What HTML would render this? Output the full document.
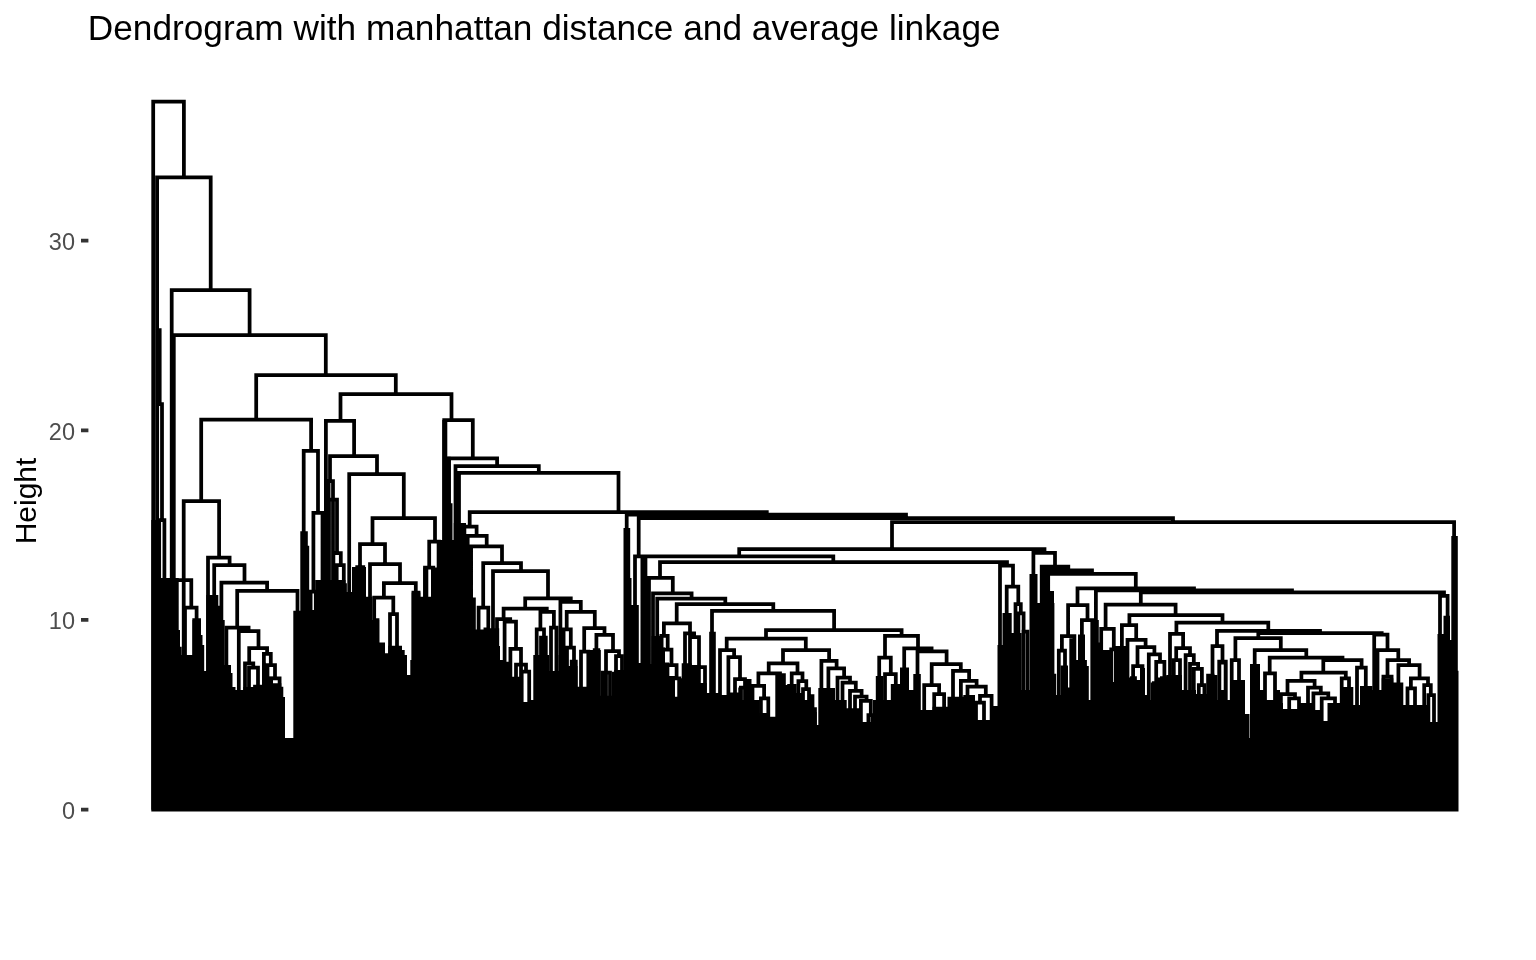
<!DOCTYPE html>
<html><head><meta charset="utf-8"><title>Dendrogram</title>
<style>
html,body{margin:0;padding:0;background:#fff;}
body{width:1536px;height:960px;overflow:hidden;position:relative;font-family:"Liberation Sans",sans-serif;}
svg{position:absolute;left:0;top:0;will-change:transform;}
text{-webkit-font-smoothing:antialiased;}
.t{font-family:"Liberation Sans",sans-serif;}
</style></head><body>
<svg width="1536" height="960" viewBox="0 0 1536 960">
<rect width="1536" height="960" fill="#fff"/>
<text class="t" x="87.8" y="39.8" font-size="35.2" fill="#000" textLength="912.8" lengthAdjust="spacingAndGlyphs">Dendrogram with manhattan distance and average linkage</text>
<text class="t" transform="translate(36,501) rotate(-90)" text-anchor="middle" font-size="30" fill="#000">Height</text>
<g class="t" font-size="23.5" fill="#4D4D4D" text-anchor="end">
<text x="75" y="250.2">30</text><text x="75" y="439.8">20</text><text x="75" y="629.4">10</text><text x="75" y="819">0</text>
</g>
<path d="M81 240.7H88.4M81 430.3H88.4M81 619.9H88.4M81 809.6H88.4" stroke="#333" stroke-width="3.75" fill="none"/>
<path d="M151.3 520H160.8V811.4H151.3ZM151.3 578H178.7V811.4H151.3ZM178.7 630H180V811.4H178.7ZM180 646.7H181.7V811.4H180ZM181.7 655H200V811.4H181.7ZM192.5 620H200.8V811.4H192.5ZM200.8 635H202.5V811.4H200.8ZM202.5 645H204.2V811.4H202.5ZM204.2 671H206.3V811.4H204.2ZM206.3 595H218.3V811.4H206.3ZM218.3 605.8H221.7V811.4H218.3ZM221.7 620H224.7V811.4H221.7ZM224.7 665H231V811.4H224.7ZM231 673H232.5V811.4H231ZM232.5 687H235.5V811.4H232.5ZM235.5 690H243.5V811.4H235.5ZM243.3 687H262V811.4H243.3ZM259.7 685H263V811.4H259.7ZM262 662.5H265.5V811.4H262ZM265.5 676.7H273V811.4H265.5ZM273 683.3H281.3V811.4H273ZM281.3 686.7H283.3V811.4H281.3ZM283.3 697H285V811.4H283.3ZM300.3 531.3H307.8V811.4H300.3ZM300.3 545.8H309.2V811.4H300.3ZM324.2 479H328.3V811.4H324.2ZM442.3 420H447.3V811.4H442.3ZM442.3 456.7H450.7V811.4H442.3ZM442.5 503.3H452.5V811.4H442.5ZM436.7 540H465V811.4H436.7ZM453.8 523H466V811.4H453.8ZM293.3 610.8H300.3V811.4H293.3ZM300.3 591.7H312.5V811.4H300.3ZM312.5 610H315.2V811.4H312.5ZM315.2 580H345.5V811.4H315.2ZM345.5 592H352V811.4H345.5ZM352 567H366V811.4H352ZM363.3 596.7H372.5V811.4H363.3ZM372.5 620H379.2V811.4H372.5ZM379.2 642.5H385V811.4H379.2ZM385 653.3H388.3V811.4H385ZM388.3 645.8H402V811.4H388.3ZM402 650H404.7V811.4H402ZM404.7 655H407V811.4H404.7ZM407 675H410.3V811.4H407ZM410.3 660H411.7V811.4H410.3ZM411.7 592.5H420.3V811.4H411.7ZM420.3 596.7H423.3V811.4H420.3ZM423.3 567.5H428.3V811.4H423.3ZM428.3 596.7H431V811.4H428.3ZM431 567.5H436.7V811.4H431ZM465 597.5H475.8V811.4H465ZM475.8 629.4H492.5V811.4H475.8ZM492.5 640H498V811.4H492.5ZM498 646H500V811.4H498ZM500 660H505V811.4H500ZM623.5 528H630.2V811.4H623.5ZM623.5 578H631.5V811.4H623.5ZM623.5 605H638.8V811.4H623.5ZM640.8 556.4H647.2V811.4H640.8ZM651.5 636H659V811.4H651.5ZM640.8 664H660.8V811.4H640.8ZM709.2 631.7H715.8V811.4H709.2ZM490 628.3H499.2V811.4H490ZM499.2 661.7H509.2V811.4H499.2ZM509.2 676.7H521V811.4H509.2ZM521 702H528V811.4H521ZM528 700H533.3V811.4H528ZM533.3 655H547.5V811.4H533.3ZM545.8 655H549.2V811.4H545.8ZM549.2 671H558.6V811.4H549.2ZM558.6 655H565.8V811.4H558.6ZM565.8 666H577.5V811.4H565.8ZM577.5 686.7H590V811.4H577.5ZM590 650H600.8V811.4H590ZM600.8 695.8H611.7V811.4H600.8ZM611.7 671.7H614.2V811.4H611.7ZM614.2 670H623.5V811.4H614.2ZM659 635.8H663.3V811.4H659ZM663.3 647.6H665V811.4H663.3ZM665 662.6H669.2V811.4H665ZM669.2 675.9H675V811.4H669.2ZM675 696.7H677.5V811.4H675ZM677.5 678.3H681.7V811.4H677.5ZM681.7 663.3H691.7V811.4H681.7ZM691.7 665H700.8V811.4H691.7ZM700.8 683H706.7V811.4H700.8ZM706.7 693H720V811.4H706.7ZM718.3 695H730V811.4H718.3ZM730 692.5H738.3V811.4H730ZM738.3 687.5H742.5V811.4H738.3ZM742.5 700H747V811.4H742.5ZM775.3 673.3H785.8V811.4H775.3ZM775.3 685H790V811.4H775.3ZM750.8 716.7H775.3V811.4H750.8ZM750.8 700H759V811.4H750.8ZM759.2 713H770V811.4H759.2ZM770 717H775.3V811.4H770ZM787.2 684H796.7V811.4H787.2ZM796.7 693H803V811.4H796.7ZM803 700H809V811.4H803ZM807.5 712H816.7V811.4H807.5ZM818.3 688H835V811.4H818.3ZM835 700H846.7V811.4H835ZM846.7 708.3H860V811.4H846.7ZM860 722H875V811.4H860ZM875.8 676H883.3V811.4H875.8ZM883.3 700H897.5V811.4H883.3ZM890.8 684H900V811.4H890.8ZM900 667.5H909V811.4H900ZM909 690H913.3V811.4H909ZM913.3 674H920.8V811.4H913.3ZM920.8 710H932.5V811.4H920.8ZM932.5 706.7H947.5V811.4H932.5ZM947.5 696.7H963.3V811.4H947.5ZM963.3 695H975V811.4H963.3ZM975 720H990V811.4H975ZM997.5 645H1013.3V811.4H997.5ZM1002.5 613H1011.7V811.4H1002.5ZM1011.7 633H1021.7V811.4H1011.7ZM1021.7 690H1029.5V811.4H1021.7ZM1029.5 574H1037.5V811.4H1029.5ZM1040 567H1050V811.4H1040ZM1050 591H1054V811.4H1050ZM1029.5 603H1054.4V811.4H1029.5ZM1054.4 673.8H1056.2V811.4H1054.4ZM1056.2 695H1060.6V811.4H1056.2ZM1060.6 665.6H1068V811.4H1060.6ZM1066.9 687.5H1075V811.4H1066.9ZM1075 660H1078V811.4H1075ZM1078 634.4H1085V811.4H1078ZM1085 660H1086.9V811.4H1085ZM1086.9 666H1088.8V811.4H1086.9ZM1088.8 700H1091V811.4H1088.8ZM1090.6 620H1098.8V811.4H1090.6ZM1098.8 642.5H1100V811.4H1098.8ZM1099.4 650H1110V811.4H1099.4ZM1110 682H1115V811.4H1110ZM1115 646H1126.2V811.4H1115ZM1126.2 677.5H1131.2V811.4H1126.2ZM1131.2 680H1140V811.4H1131.2ZM1140 668H1145V811.4H1140ZM1145 695H1147V811.4H1145ZM1150.6 682.5H1154.4V811.4H1150.6ZM1152 683H1159V811.4H1152ZM1158 677.5H1166.2V811.4H1158ZM1166.2 675H1182V811.4H1166.2ZM1182 690H1184V811.4H1182ZM1187 690H1196V811.4H1187ZM1195.6 694H1206.2V811.4H1195.6ZM1206.2 673.8H1214.4V811.4H1206.2ZM1214.4 675H1217.5V811.4H1214.4ZM1221 690H1224V811.4H1221ZM1443.5 615.8H1450V811.4H1443.5ZM1437.5 634H1450V811.4H1437.5ZM1451.3 536H1457.8V811.4H1451.3ZM1451.3 670.8H1458.5V811.4H1451.3ZM1204 700H1232V811.4H1204ZM1210 675H1217V811.4H1210ZM1230 680H1245V811.4H1230ZM1245 714H1249.5V811.4H1245ZM1250 664H1260V811.4H1250ZM1260 690H1266V811.4H1260ZM1266 700H1274V811.4H1266ZM1274 690H1280V811.4H1274ZM1278 703H1283V811.4H1278ZM1283 709H1299V811.4H1283ZM1299 703H1313V811.4H1299ZM1313 710H1322V811.4H1313ZM1322 721H1327.5V811.4H1322ZM1327.5 703H1340V811.4H1327.5ZM1340 687H1353.3V811.4H1340ZM1353.3 705H1360V811.4H1353.3ZM1360 686H1372.5V811.4H1360ZM1372.5 690H1381.7V811.4H1372.5ZM1381.7 678.3H1393.3V811.4H1381.7ZM1393.3 682.5H1403.3V811.4H1393.3ZM1403.3 705H1428V811.4H1403.3ZM1428 722H1437.5V811.4H1428ZM151.5 738H1458.5V811.4H151.5ZM638 663H641.5V811.4H638ZM816 725H819V811.4H816ZM746 679H751.5V811.4H746ZM990 706H998V811.4H990ZM873 700H877V811.4H873ZM1449 640H1452V811.4H1449ZM1147 700H1151V811.4H1147Z" fill="#000"/>
<path d="M153.2 809.7V101.7H183.9V177.3M157.1 809.7V177.3H210.7V290M171.7 809.7V290H249.6V335M173.8 809.7V335H325.8V375M256.2 419.7V375H395.8V394.2M201.2 501.2V419.7H311.1V450.8M340.5 420.8V394.2H451.5V420M325.9 809.7V420.8H354.1V456.2M444.2 809.7V420H472.8V458.3M183.7 809.7V501.2H219.1V557.5M303.7 809.7V450.8H318V513.3M330 481.2V456.2H377V474.2M349.2 809.7V474.2H403.8V518M157.2 809.7V404.2H162V520M159.2 809.7V520H164.4V809.7M176.1 809.7V580H191.3V607.5M185 809.7V607.5H196.6V620M194.2 809.7V620H199.1V809.7M208 809.7V557.5H229.6V565M214.2 809.7V565H244.5V582.5M221.4 809.7V582.5H267.1V590.8M237.2 627.5V590.8H297.5V809.7M226.4 809.7V627.5H248.6V631M238.8 809.7V631H258.5V648M249.2 663.3V648H267.1V653.8M245 809.7V663.3H253.3V667.5M249 809.7V667.5H258V809.7M263.9 809.7V653.8H270.8V665M267.5 809.7V665H275V678.3M270.9 809.7V678.3H279.6V809.7M255 809.7V686.7H260V809.7M313.4 591.7V512.8H322.5V809.7M310 809.7V591.7H315.8V809.7M328.6 809.7V481.2H333V809.7M329 809.7V499.5H337V553M333.4 809.7V553H340.8V565M336.7 809.7V565H343.8V809.7M341 809.7V585H345V809.7M372.5 544.2V518H435V541.7M360 567V544.2H385V564.2M357.2 809.7V567H363.3V809.7M370 809.7V564.2H400V583M383.9 597.5V583H415.8V592.5M374.2 809.7V597.5H393.3V614.2M390 809.7V614.2H397V809.7M374.2 809.7V620H377.5V809.7M413.4 809.7V592.5H418.6V809.7M429.2 567.5V541.7H439V809.7M425 809.7V567.5H433.3V809.7M449 809.7V458.3H497.1V466.2M455.5 809.7V466.2H538.8V472.8M459 809.7V472.8H618.5V512.2M469.7 526.7V512H766.8V514.7M464.4 809.7V526.7H476.6V535.8M467.7 809.7V535.8H486.7V546.3M471.1 809.7V546.3H502V563.1M483.2 607.5V563.1H521V571.2M478.6 809.7V607.5H488.3V629.4M485.4 809.7V629.4H488.3V809.7M493 809.7V571.2H548V598.4M525.2 608.5V598.4H570.8V601.9M503.6 619V608.5H546.8V611.9M497 809.7V619H510.2V621.5M504.6 809.7V621.5H516V648.8M510.4 809.7V648.8H521V809.7M540.4 629.4V611.9H553.9V627.5M536.7 809.7V629.4H544V809.7M551 809.7V627.5H556.4V809.7M560.4 809.7V601.9H580.8V611.9M566.7 629.4V611.9H594.8V628.1M563.6 809.7V629.4H570.8V647.5M567 809.7V647.5H574V809.7M584.2 651.5V628.1H604.5V634.8M581 809.7V651.5H588.3V809.7M596.4 650V634.8H613V651M594.7 809.7V650H598.3V809.7M606 809.7V651H619V656M616 809.7V656H622V809.7M626.7 809.7V514.7H906V518.1M638.7 556.4V518.1H1173V522.2M892 549.2V522.2H1454.1V809.7M635 809.7V556.4H642.5V809.7M739.2 556.4V549.2H1044.5V552.5M645.3 809.7V556.4H833.3V562.2M660 577.8V562.2H1007V565M649 809.7V577.8H672.8V593.3M653 809.7V593.3H691.6V598.7M657.2 809.7V598.7H725.3V604.2M676.7 623.3V604.2H773.3V610.8M712 809.7V610.8H834.1V630M766 638.5V630H901.6V635.8M663.9 635.8V623.3H690V633.3M516 809.7V664.5H526V671.5M521.7 809.7V671.5H529.2V809.7M541 809.7V637.5H545.8V809.7M571.7 809.7V661.7H575.8V809.7M602.5 809.7V672.5H610V809.7M661.4 809.7V635.8H667.7V649.5M663.1 809.7V649.5H671.5V665M667.3 809.7V665H676.6V678.3M673.1 809.7V678.3H679.4V809.7M685 809.7V633.3H694.1V637M690 809.7V637H699V667M693.4 809.7V667H705V809.7M726.7 650V638.5H805.8V650M720 809.7V650H734.1V657M728.4 809.7V657H740V679M735 809.7V679H745V809.7M783 663.3V650H829.1V660.8M768.7 673.3V663.3H797.5V673.3M758.4 685.8V673.3H780V809.7M752.5 809.7V685.8H764.1V698.3M760.9 809.7V698.3H768.3V809.7M791.7 809.7V673.3H802.5V681M798.4 809.7V681H806.3V689M803 809.7V689H809V809.7M809.2 809.7V696H812.5V809.7M812.5 809.7V709H815V809.7M821.4 809.7V660.8H836.6V668.3M828.4 809.7V668.3H844.1V677.5M837.5 809.7V677.5H850V682.5M842.5 809.7V682.5H855.8V690.8M850 809.7V690.8H861.6V696.7M855 809.7V696.7H866.6V700.8M860.9 809.7V700.8H870.8V715M868.4 809.7V715H872.5V809.7M885 657.5V635.8H918V648.3M879.2 809.7V657.5H890.8V674.2M885 809.7V674.2H895.8V809.7M904.2 809.7V648.3H931.6V651.3M917.5 809.7V651.3H946.6V664.2M931.7 685V664.2H960.8V670.8M924.2 809.7V685H939.1V694.2M934.2 809.7V694.2H944.1V809.7M953 809.7V670.8H969.1V680.8M960.9 809.7V680.8H976.6V686.7M967.5 809.7V686.7H985.8V695.8M980 702.5V695.8H991.6V809.7M976 809.7V702.5H984V809.7M1000 809.7V565.5H1013V586.7M1006.7 809.7V586.7H1018.3V604.2M1015.5 809.7V604.2H1020.8V613.3M1018.4 809.7V613.3H1023.6V631.7M1023.4 809.7V631.7H1027.5V809.7M1033.4 809.7V552.8H1055V566.5M1041.7 809.7V566.5H1068.3V570.3M1045 809.7V570.3H1092V573.8M1048.2 809.7V573.8H1135.8V588.3M1077.5 605V588.3H1194V590.4M1095.9 809.7V590.4H1292V592.4M1140.8 604.6V592.4H1444V595.8M1068.1 636.2V605H1087.5V620M1061.9 650.6V636.2H1074.4V640M1058.8 809.7V650.6H1065V809.7M1071.2 809.7V640H1074.4V809.7M1081.9 809.7V620H1092.5V809.7M1105.6 628.8V604.6H1175.6V615M1101.2 809.7V628.8H1113.8V649.4M1111.2 809.7V649.4H1115.7V809.7M1129.4 625V615H1222.5V622.5M1121.9 809.7V625H1136.2V639.8M1127.5 809.7V639.8H1145.6V647.2M1137.5 666.2V647.2H1154.4V654.4M1148.8 809.7V654.4H1160V661.9M1156.2 683V661.9H1164.4V678M1153.8 809.7V683H1158.8V809.7M1161.9 809.7V678H1167V809.7M1133.1 678V666.2H1142.5V809.7M1131.9 809.7V678H1135V809.7M1170 809.7V633.8H1183.1V648M1176.2 660V648H1190V655M1173.8 809.7V660H1180V809.7M1185.6 809.7V655H1193.8V663.8M1190 809.7V663.8H1198.1V668.8M1193.8 809.7V668.8H1201.9V685M1198.8 809.7V685H1204.4V809.7M1212.5 809.7V646.2H1222.5V662.5M1219.4 809.7V662.5H1225.6V809.7M1440 809.7V595.8H1447.6V809.7M1176.4 634.2V622.5H1268.3V630.8M1217 646.2V630.8H1320V633M1258.3 638V633H1381.7V634.5M1374.2 809.7V634.5H1387.5V650M1377.5 809.7V650H1398.3V660M1387.5 676.7V660H1409.1V665M1383.4 809.7V676.7H1391.6V809.7M1398.4 809.7V665H1419.6V678.3M1410.9 688.3V678.3H1428V685M1407.5 809.7V688.3H1415V809.7M1424.2 809.7V685H1430.8V695M1428.4 809.7V695H1434V809.7M1235.4 660V638H1280.8V650M1231.7 809.7V660H1239V809.7M1254.7 809.7V650H1306.3V657.5M1269.7 673.3V657.5H1342.5V660M1323.3 672.5V660H1361.6V667.5M1265 809.7V673.3H1275V809.7M1301.4 680.8V672.5H1345.8V678.3M1287.5 694.2V680.8H1314.6V687.5M1280.9 809.7V694.2H1295V698.3M1289.2 809.7V698.3H1299V809.7M1308 809.7V687.5H1320.8V693.3M1313.4 809.7V693.3H1328.3V698.3M1321.7 809.7V698.3H1335V809.7M1341.7 809.7V678.3H1349V809.7M1357 809.7V667.5H1365.8V809.7M1219.2 809.7V661.7H1225.8V809.7M740.9 809.7V687.5H748.2V809.7M157.1 809.7V330H159.7V404.2" fill="none" stroke="#000" stroke-width="3.75" stroke-linejoin="miter" stroke-linecap="butt"/>
</svg>
</body></html>
